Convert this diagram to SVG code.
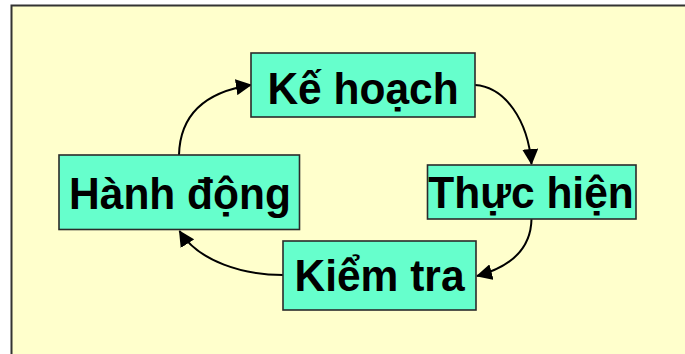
<svg xmlns="http://www.w3.org/2000/svg" width="685" height="354" viewBox="0 0 685 354">
  <style>
    .box { fill: #66FFCC; stroke: #2b2b2b; stroke-width: 1.6; }
    .label { font-family: "Liberation Sans", Arial, sans-serif; font-weight: bold; font-size: 42.5px; fill: #000; text-anchor: middle; }
    .link { fill: none; stroke: #000; stroke-width: 2; marker-end: url(#arrow); }
  </style>
  <defs>
    <marker id="arrow" markerUnits="userSpaceOnUse" markerWidth="16" markerHeight="16" viewBox="0 0 16 16" refX="15" refY="8" orient="auto">
      <path d="M0,0 L16,8 L0,16 Z" fill="#000"/>
    </marker>
  </defs>

  <!-- page background and frame -->
  <rect x="0" y="0" width="685" height="354" fill="#ffffff"/>
  <rect x="11.5" y="5.5" width="690" height="360" fill="#FFFFCC" stroke="#333" stroke-width="2"/>

  <g id="connectors">
    <path class="link" d="M475,85 C505,87 528,120 531.5,164"/>
    <path class="link" d="M531.5,219 C531,246 514,266 477,276"/>
    <path class="link" d="M283,275 C244,275 199,262 179.5,231"/>
    <path class="link" d="M179,155 C180,115 205,92 251,85"/>
  </g>

  <g id="ke-hoach">
    <rect class="box" x="251" y="53" width="224" height="64"/>
    <text class="label" transform="translate(363,103.5) scale(1,1.05)">Kế hoạch</text>
  </g>

  <g id="thuc-hien">
    <rect class="box" x="427.5" y="165" width="208.5" height="54"/>
    <text class="label" transform="translate(531,207.5) scale(1,1.05)">Thực hiện</text>
  </g>

  <g id="kiem-tra">
    <rect class="box" x="283" y="241" width="193" height="69"/>
    <text class="label" transform="translate(379.5,290.5) scale(1,1.05)">Kiểm tra</text>
  </g>

  <g id="hanh-dong">
    <rect class="box" x="59" y="155" width="240.5" height="74.5"/>
    <text class="label" transform="translate(180,208.5) scale(1,1.05)">Hành động</text>
  </g>
</svg>
